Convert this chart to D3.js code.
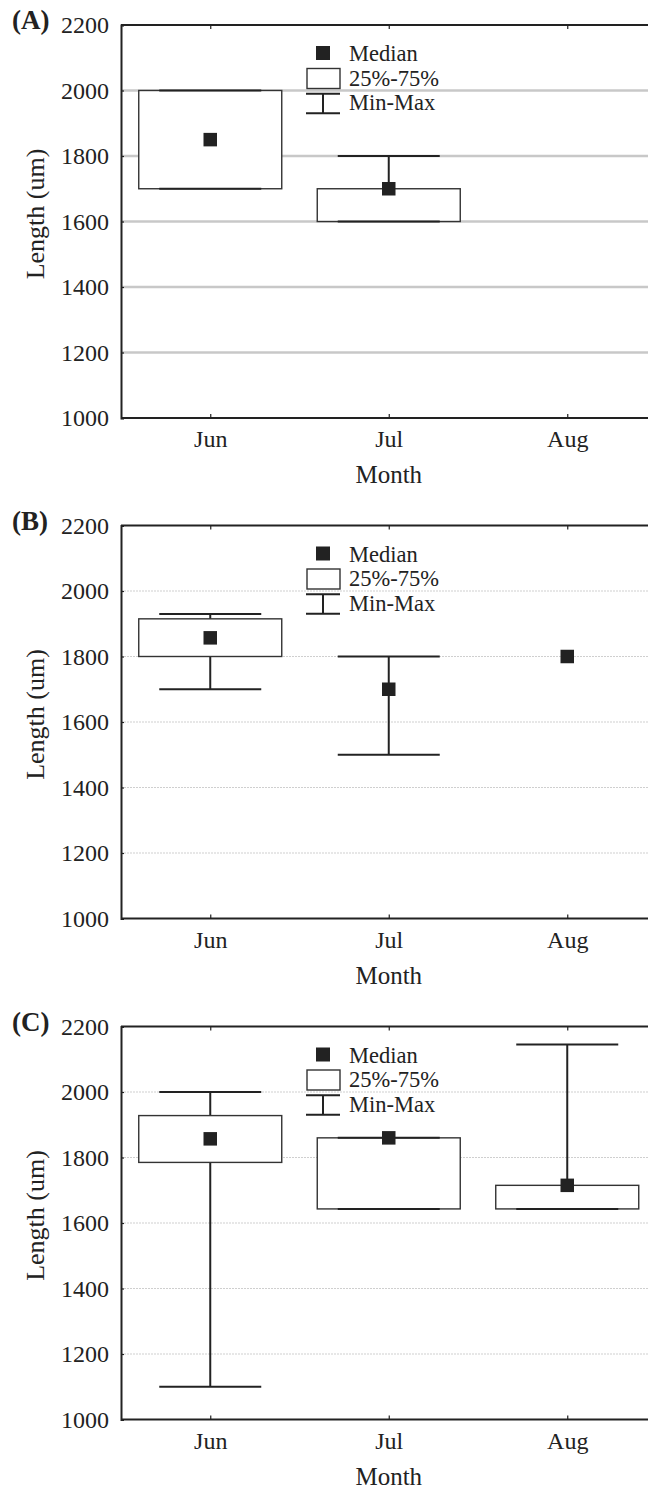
<!DOCTYPE html>
<html>
<head>
<meta charset="utf-8">
<script src="https://cdn.jsdelivr.net/npm/d3@7"></script>
<style>
  html, body { margin: 0; padding: 0; background: #fff; }
  svg { display: block; }
  text { font-family: "Liberation Serif", "Times New Roman", serif; fill: #222; }
</style>
</head>
<body>
<svg id="chart" width="648" height="1490"></svg>
<script>
// Months on the x axis and the y tick values shared by all panels
const months = ["Jun", "Jul", "Aug"];
const yTicks = [1000, 1200, 1400, 1600, 1800, 2000, 2200];

// Panel (A): summary statistics per month (null = no data)
const medianA = [1850, 1700, null];
const q1A = [1700, 1600, null];
const q3A = [2000, 1700, null];
const minA = [1700, 1600, null];
const maxA = [2000, 1800, null];

// Panel (B)
const medianB = [1857, 1700, 1800];
const q1B = [1800, 1700, null];
const q3B = [1915, 1700, null];
const minB = [1700, 1500, null];
const maxB = [1930, 1800, null];

// Panel (C)
const medianC = [1857, 1860, 1715];
const q1C = [1785, 1643, 1643];
const q3C = [1928, 1860, 1715];
const minC = [1100, 1643, 1643];
const maxC = [2000, 1860, 2145];

const legendLabels = ["Median", "25%-75%", "Min-Max"];

const panels = [
  { label: "(A)", offset: 0, grid: "solid",
    median: medianA, q1: q1A, q3: q3A, min: minA, max: maxA },
  { label: "(B)", offset: 500.5, grid: "dotted",
    median: medianB, q1: q1B, q3: q3B, min: minB, max: maxB },
  { label: "(C)", offset: 1001.5, grid: "dotted",
    median: medianC, q1: q1C, q3: q3C, min: minC, max: maxC }
];

const serif = '"Liberation Serif", "Times New Roman", serif';
const svg = d3.select("#chart");
const plotLeft = 121, plotTop = 25, plotH = 393, step = 178.5;
const plotRight = plotLeft + step * months.length;

const x = d3.scalePoint().domain(months).range([plotLeft, plotRight]).padding(0.5);
const y = d3.scaleLinear().domain([1000, 2200]).range([plotTop + plotH, plotTop]);

const boxHalf = 71.5, capHalf = 51, markSize = 13.5;
const ink = "#222";

panels.forEach(p => {
  const g = svg.append("g").attr("transform", `translate(0,${p.offset})`);

  // horizontal gridlines
  g.append("g").selectAll("line")
    .data(yTicks.filter(v => v > 1000 && v < 2200))
    .join("line")
    .attr("x1", plotLeft).attr("x2", 648)
    .attr("y1", d => y(d)).attr("y2", d => y(d))
    .attr("stroke", p.grid === "solid" ? "#c8c8c8" : "#cfcfcf")
    .attr("stroke-width", p.grid === "solid" ? 2.5 : 1)
    .attr("stroke-dasharray", p.grid === "solid" ? null : "2,1");

  // y axis with inward ticks
  const yAxis = d3.axisLeft(y).tickValues(yTicks).tickSize(-3).tickPadding(12)
    .tickFormat(d3.format("d"));
  const ya = g.append("g").attr("transform", `translate(${plotLeft},0)`).call(yAxis);
  ya.attr("font-family", serif);
  ya.select(".domain").attr("stroke", ink).attr("stroke-width", 2);
  ya.selectAll(".tick line").attr("stroke", ink).attr("stroke-width", 1.2);
  ya.selectAll(".tick text")
    .style("font-family", serif)
    .style("font-size", "24px").attr("fill", ink);

  // bottom axis with inward ticks
  const xAxis = d3.axisBottom(x).tickSize(-4).tickPadding(12);
  const xa = g.append("g").attr("transform", `translate(0,${plotTop + plotH})`).call(xAxis);
  xa.attr("font-family", serif);
  xa.select(".domain").attr("stroke", ink).attr("stroke-width", 2)
    .attr("d", `M${plotLeft},0H${plotRight}`);
  xa.selectAll(".tick line").attr("stroke", ink).attr("stroke-width", 1.2);
  xa.selectAll(".tick text")
    .style("font-family", serif)
    .style("font-size", "24px").attr("fill", ink)
    .attr("dy", "0.71em");

  // top frame line with inward ticks
  const ta = g.append("g").attr("transform", `translate(0,${plotTop})`)
    .call(d3.axisTop(x).tickSize(-4).tickFormat(""));
  ta.select(".domain").attr("stroke", ink).attr("stroke-width", 2)
    .attr("d", `M${plotLeft},0H${plotRight}`);
  ta.selectAll(".tick line").attr("stroke", ink).attr("stroke-width", 1.2);

  // axis titles
  g.append("text")
    .attr("transform", `translate(44,214) rotate(-90)`)
    .attr("text-anchor", "middle")
    .style("font-size", "26px")
    .text("Length (um)");
  g.append("text")
    .attr("x", x("Jul")).attr("y", plotTop + plotH + 65)
    .attr("text-anchor", "middle")
    .style("font-size", "25px")
    .text("Month");

  // panel letter
  g.append("text")
    .attr("x", 12).attr("y", 29)
    .style("font-size", "27px").style("font-weight", "bold")
    .text(p.label);

  // box-and-whisker marks
  const rows = months.map((m, i) => ({
    m, median: p.median[i], q1: p.q1[i], q3: p.q3[i], min: p.min[i], max: p.max[i]
  }));
  const marks = g.append("g");

  rows.filter(d => d.min != null && d.max != null).forEach(d => {
    const cx = x(d.m);
    marks.append("line")
      .attr("x1", cx).attr("x2", cx)
      .attr("y1", y(d.min)).attr("y2", y(d.max))
      .attr("stroke", ink).attr("stroke-width", 2);
  });
  rows.filter(d => d.q1 != null && d.q3 != null).forEach(d => {
    const cx = x(d.m);
    marks.append("rect")
      .attr("x", cx - boxHalf).attr("width", boxHalf * 2)
      .attr("y", y(d.q3)).attr("height", Math.max(0, y(d.q1) - y(d.q3)))
      .attr("fill", "#fff").attr("stroke", "#333").attr("stroke-width", 1.4);
  });
  rows.filter(d => d.min != null && d.max != null).forEach(d => {
    const cx = x(d.m);
    [d.min, d.max].forEach(v => {
      marks.append("line")
        .attr("x1", cx - capHalf).attr("x2", cx + capHalf)
        .attr("y1", y(v)).attr("y2", y(v))
        .attr("stroke", ink).attr("stroke-width", 2);
    });
  });
  rows.filter(d => d.median != null).forEach(d => {
    marks.append("rect")
      .attr("x", x(d.m) - markSize / 2).attr("y", y(d.median) - markSize / 2)
      .attr("width", markSize).attr("height", markSize)
      .attr("fill", ink);
  });

  // legend
  const lg = g.append("g");
  lg.append("rect").attr("x", 316).attr("y", 46).attr("width", 14).attr("height", 14)
    .attr("fill", ink);
  lg.append("rect").attr("x", 307).attr("y", 68.5).attr("width", 33).attr("height", 20)
    .attr("fill", "#fff").attr("stroke", "#333").attr("stroke-width", 1.4);
  lg.append("path").attr("d", "M306,93.7H340M323,93.7V113.3M306,113.3H340")
    .attr("fill", "none").attr("stroke", ink).attr("stroke-width", 2);
  lg.selectAll("text.leg").data(legendLabels).join("text")
    .attr("class", "leg")
    .attr("x", 349).attr("y", (d, i) => [61, 85.5, 110][i])
    .style("font-size", "22.5px")
    .text(d => d);
});
</script>
</body>
</html>
